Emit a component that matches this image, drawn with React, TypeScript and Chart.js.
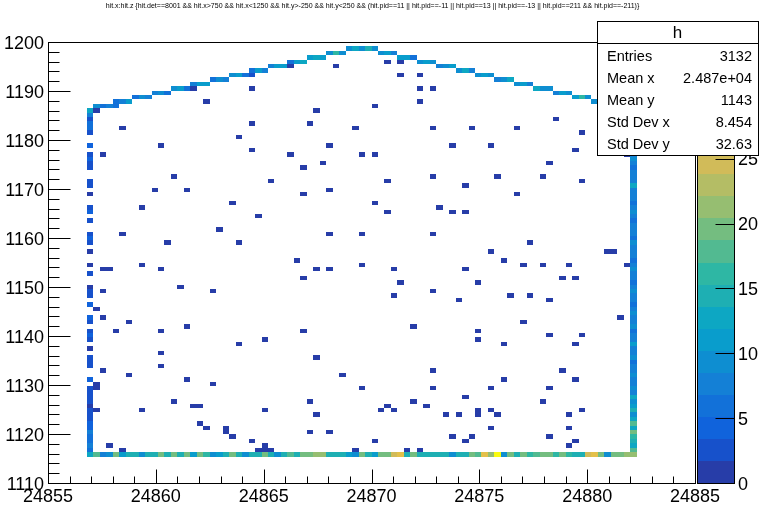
import React, { useEffect, useRef } from "react";
import { Chart, registerables } from "chart.js";
Chart.register(...registerables);

const TITLE =
  "hit.x:hit.z {hit.det==8001 && hit.x>750 && hit.x<1250 && hit.y>-250 && hit.y<250 && (hit.pid==11 || hit.pid==-11 || hit.pid==13 || hit.pid==-13 || hit.pid==211 && hit.pid==-211)}";
const HIST_NAME = "h";

// binning of the 2D histogram
const X_MIN = 24855, X_MAX = 24885, NX = 100;
const Y_MIN = 1110, Y_MAX = 1200, NY = 100;
const Z_MAX = 34;
const N_CONTOURS = 20;

const xMajorTicks = [24855, 24860, 24865, 24870, 24875, 24880, 24885];
const yMajorTicks = [1110, 1120, 1130, 1140, 1150, 1160, 1170, 1180, 1190, 1200];
const zMajorTicks = [0, 5, 10, 15, 20, 25, 30];
const X_MINOR_STEP = 1;
const Y_MINOR_STEP = 2;

const statsLabels = ["Entries", "Mean x", "Mean y", "Std Dev x", "Std Dev y"];
const statsValues = ["3132", "2.487e+04", "1143", "8.454", "32.63"];

// bottom row: y bin 6, x bins 6..90
const BOTTOM_ROW_Y_BIN = 6;
const BOTTOM_ROW_FIRST_X_BIN = 6;
const bottomRowZ = [
  12, 17, 8, 9, 20, 11, 15, 15, 9, 14,
  15, 19, 15, 19, 15, 19, 11, 19, 16, 9,
  11, 15, 19, 15, 9, 14, 15, 20, 15, 10,
  14, 17, 15, 19, 20, 22, 21, 14, 14, 15,
  11, 10, 20, 15, 11, 19, 20, 25, 26, 14,
  19, 14, 15, 14, 15, 14, 10, 14, 15, 19,
  18, 26, 21, 34, 10, 20, 15, 19, 16, 18,
  19, 20, 16, 19, 16, 15, 15, 25, 26, 20,
  10, 19, 20, 21, 21,
];

// side columns: y bins 7..84
const COLUMN_FIRST_Y_BIN = 7;
const LEFT_COLUMN_X_BIN = 6;
const leftColumnZ = [
  6, 7, 6, 6, 7, 5, 5, 2, 3,
  2, 1, 2, 3, 2, 2, 0, 5, 0, 0,
  2, 2, 2, 0, 1, 0, 2, 4, 3, 0,
  3, 4, 0, 0, 5, 0, 2, 2, 1, 0,
  0, 2, 0, 1, 0, 0, 1, 0, 2, 4,
  3, 0, 0, 2, 0, 4, 2, 0, 0, 1,
  0, 2, 2, 0, 0, 2, 3, 4, 2, 0,
  5, 0, 0, 2, 6, 6, 3, 7, 12,
];
const RIGHT_COLUMN_X_BIN = 90;
const rightColumnZ = [
  18, 12, 15, 16, 19, 13, 17, 12, 10,
  14, 11, 9, 12, 8, 9, 7, 8, 10, 7,
  8, 6, 9, 7, 8, 11, 7, 8, 6, 9,
  7, 8, 10, 7, 6, 8, 7, 9, 7, 6,
  8, 7, 9, 8, 6, 7, 8, 7, 9, 6,
  7, 8, 7, 6, 8, 9, 7, 6, 8, 7,
  8, 12, 7, 8, 7, 6, 8, 9, 7, 8,
  6, 7, 8, 9, 7, 8, 10, 8, 9,
];

// roof staircase: [x bin, y bin, content]
const stairCells: number[][] = [
  [7, 85, 10], [8, 85, 6], [9, 85, 8], [10, 85, 6],
  [10, 86, 6], [11, 86, 8], [12, 86, 11],
  [13, 87, 6], [14, 87, 10], [15, 87, 8],
  [16, 88, 8], [17, 88, 9], [18, 88, 6],
  [19, 89, 9], [20, 89, 11], [21, 89, 6],
  [22, 90, 8], [23, 90, 11], [24, 90, 11],
  [25, 91, 6], [26, 91, 9], [27, 91, 7],
  [28, 92, 10], [29, 92, 11], [30, 92, 6], [31, 92, 2],
  [31, 93, 6], [32, 93, 11], [33, 93, 8],
  [34, 94, 8], [35, 94, 11], [36, 94, 11],
  [37, 95, 6], [38, 95, 11], [39, 95, 12],
  [40, 96, 11], [41, 96, 12], [42, 96, 11],
  [43, 97, 9], [44, 97, 16], [45, 97, 10],
  [46, 98, 10], [47, 98, 13], [48, 98, 10], [49, 98, 14], [50, 98, 10],
  [51, 97, 10], [52, 97, 11], [53, 97, 8],
  [54, 96, 11], [55, 96, 11], [56, 96, 6],
  [57, 95, 10], [58, 95, 11], [59, 95, 9],
  [60, 94, 8], [61, 94, 10], [62, 94, 11],
  [63, 93, 9], [64, 93, 12], [65, 93, 8],
  [66, 92, 10], [67, 92, 11], [68, 92, 9],
  [69, 91, 8], [70, 91, 10], [71, 91, 12],
  [72, 90, 9], [73, 90, 11], [74, 90, 8],
  [75, 89, 12], [76, 89, 10], [77, 89, 9],
  [78, 88, 8], [79, 88, 11], [80, 88, 10],
  [81, 87, 11], [82, 87, 16], [83, 87, 9],
  [84, 86, 10], [85, 86, 12], [86, 86, 9],
  [87, 85, 11], [88, 85, 10], [89, 85, 9],
];

// isolated single hits inside the outline: [x bin, y bin]
const scatterCells: number[][] = [
  [44, 94], [52, 95], [54, 95], [54, 92], [57, 92], [31, 89], [22, 89], [24, 86], [37, 94],
  [7, 84], [41, 84], [50, 85], [11, 80], [31, 81], [40, 81], [47, 80], [29, 78], [17, 76],
  [43, 76], [31, 75], [8, 74], [37, 74], [48, 74], [50, 74], [42, 72], [39, 71], [89, 74],
  [57, 89], [59, 89], [57, 86], [59, 80], [65, 80], [72, 80], [78, 82], [82, 79], [62, 76],
  [68, 76], [81, 75], [77, 72],
  [16, 66], [19, 69], [21, 66], [34, 68], [43, 66], [52, 68], [59, 69], [64, 67], [69, 69],
  [76, 69], [82, 68], [14, 62], [28, 63], [39, 65], [50, 63], [52, 61], [60, 62], [62, 61],
  [64, 61], [32, 60], [72, 65], [11, 56], [26, 57], [29, 54], [43, 56], [48, 56], [59, 56],
  [68, 52], [70, 50], [74, 54], [80, 49], [86, 52], [87, 52], [18, 54], [14, 49], [8, 48],
  [9, 48], [17, 48], [38, 50], [41, 48], [43, 48], [48, 49], [53, 48], [64, 48], [73, 49],
  [76, 49], [81, 46], [89, 49], [20, 44], [25, 43], [8, 43], [39, 46], [53, 42], [54, 45],
  [59, 43], [63, 41], [66, 45], [71, 42], [74, 42], [77, 41], [79, 46], [7, 39], [8, 37],
  [12, 36], [10, 34], [17, 34], [17, 29], [21, 35], [29, 31], [33, 32], [39, 34], [56, 35],
  [66, 34], [66, 32], [70, 31], [73, 36], [77, 33], [81, 31], [82, 33], [88, 37], [8, 25],
  [12, 24], [17, 26], [21, 23], [25, 22], [41, 28], [45, 24], [48, 21], [59, 25], [59, 21],
  [64, 19], [68, 21], [70, 23], [77, 21], [79, 25], [81, 23], [7, 21], [7, 22],
  [19, 18], [22, 17], [23, 17], [7, 16], [14, 16], [33, 16], [40, 18], [52, 17], [51, 16],
  [53, 16], [56, 18], [58, 17], [41, 15], [61, 15], [63, 15], [66, 15], [66, 16], [68, 16],
  [69, 15], [76, 18], [82, 16], [80, 15], [23, 13], [24, 12], [27, 11], [27, 12], [28, 10],
  [40, 11], [43, 11], [68, 12], [80, 12], [62, 10], [65, 10], [64, 9], [77, 10], [80, 8],
  [81, 9], [31, 9], [50, 9], [9, 8], [11, 7], [32, 7], [33, 8], [33, 7], [34, 7], [47, 7],
  [55, 7], [57, 7],
];

// ROOT kBird palette
const BIRD_STOPS = [0, 0.125, 0.25, 0.375, 0.5, 0.625, 0.75, 0.875, 1];
const BIRD_R = [0.2082, 0.0592, 0.078, 0.0232, 0.1802, 0.5301, 0.8186, 0.9956, 0.9764];
const BIRD_G = [0.1664, 0.3599, 0.5041, 0.6419, 0.7178, 0.7492, 0.7328, 0.7862, 0.9832];
const BIRD_B = [0.5293, 0.8684, 0.8385, 0.7914, 0.6425, 0.4662, 0.3499, 0.1968, 0.0539];

function bird(f: number): string {
  f = Math.max(0, Math.min(1, f));
  let i = 0;
  while (i < BIRD_STOPS.length - 2 && f > BIRD_STOPS[i + 1]) i++;
  const t = (f - BIRD_STOPS[i]) / (BIRD_STOPS[i + 1] - BIRD_STOPS[i]);
  const c = (a: number[]) => Math.round(255 * (a[i] + t * (a[i + 1] - a[i])));
  return `rgb(${c(BIRD_R)},${c(BIRD_G)},${c(BIRD_B)})`;
}
function bandColor(band: number): string {
  const ci = Math.floor((band + 0.99) * 255 / N_CONTOURS);
  return bird(Math.min(254, ci) / 254);
}
function zColor(z: number): string {
  const band = Math.max(0, Math.min(N_CONTOURS - 1, Math.floor(z / (Z_MAX / N_CONTOURS))));
  return bandColor(band);
}

type Cell = { x: number; y: number; x0: number; x1: number; y0: number; y1: number; z: number };
function buildCells(): Cell[] {
  const dx = (X_MAX - X_MIN) / NX, dy = (Y_MAX - Y_MIN) / NY;
  const out: Cell[] = [];
  const add = (k: number, j: number, z: number) => {
    if (!(z > 0)) return;
    const x0 = X_MIN + k * dx, y0 = Y_MIN + j * dy;
    out.push({ x: x0 + dx / 2, y: y0 + dy / 2, x0, x1: x0 + dx, y0, y1: y0 + dy, z });
  };
  bottomRowZ.forEach((z, i) => add(BOTTOM_ROW_FIRST_X_BIN + i, BOTTOM_ROW_Y_BIN, z));
  leftColumnZ.forEach((z, i) => add(LEFT_COLUMN_X_BIN, COLUMN_FIRST_Y_BIN + i, z));
  rightColumnZ.forEach((z, i) => add(RIGHT_COLUMN_X_BIN, COLUMN_FIRST_Y_BIN + i, z));
  stairCells.forEach(([k, j, z]) => add(k, j, z));
  scatterCells.forEach(([k, j]) => add(k, j, 1));
  return out;
}

const FONT = '"Liberation Sans", Arial, Helvetica, sans-serif';

const rootPlugin = {
  id: "rootTH2",
  beforeDatasetsDraw(chart: any) {
    const ctx: CanvasRenderingContext2D = chart.ctx;
    const xs = chart.scales.x, ys = chart.scales.y;
    const data = chart.data.datasets[0].data as Cell[];
    ctx.save();
    for (const c of data) {
      const px0 = Math.round(xs.getPixelForValue(c.x0));
      const px1 = Math.round(xs.getPixelForValue(c.x1));
      const py0 = Math.round(ys.getPixelForValue(c.y0));
      const py1 = Math.round(ys.getPixelForValue(c.y1));
      ctx.fillStyle = zColor(c.z);
      ctx.fillRect(px0, py1, px1 - px0, py0 - py1);
    }
    ctx.restore();
  },
  afterDraw(chart: any) {
    const ctx: CanvasRenderingContext2D = chart.ctx;
    const xs = chart.scales.x, ys = chart.scales.y;
    const a = chart.chartArea;
    const L = Math.round(a.left), R = Math.round(a.right), T = Math.round(a.top), B = Math.round(a.bottom);
    ctx.save();
    ctx.strokeStyle = "#000";
    ctx.fillStyle = "#000";
    ctx.lineWidth = 1;

    // frame
    ctx.strokeRect(L + 0.5, T + 0.5, R - L, B - T);

    // x ticks (inward)
    ctx.beginPath();
    for (let v = X_MIN; v <= X_MAX + 1e-9; v += X_MINOR_STEP) {
      const px = Math.round(xs.getPixelForValue(v)) + 0.5;
      const major = xMajorTicks.includes(v);
      ctx.moveTo(px, B + 0.5);
      ctx.lineTo(px, B + 0.5 - (major ? 14 : 7));
    }
    // y ticks
    for (let v = Y_MIN; v <= Y_MAX + 1e-9; v += Y_MINOR_STEP) {
      const py = Math.round(ys.getPixelForValue(v)) + 0.5;
      const major = yMajorTicks.includes(v);
      ctx.moveTo(L + 0.5, py);
      ctx.lineTo(L + 0.5 + (major ? 22 : 11), py);
    }
    ctx.stroke();

    // axis labels
    ctx.font = `18px ${FONT}`;
    ctx.textBaseline = "alphabetic";
    ctx.textAlign = "center";
    for (const v of xMajorTicks) ctx.fillText(String(v), xs.getPixelForValue(v), B + 19);
    ctx.textAlign = "right";
    for (const v of yMajorTicks) ctx.fillText(String(v), L - 4, ys.getPixelForValue(v) + 6.5);

    // palette
    const zs = chart.scales.z;
    const zPix = (v: number) => {
      const p = zs ? zs.getPixelForValue(v) : NaN;
      return isFinite(p) ? p : B - (v / Z_MAX) * (B - T);
    };
    const pL = R + 2, pR = R + 39;
    for (let i = 0; i < N_CONTOURS; i++) {
      const zlo = (i * Z_MAX) / N_CONTOURS, zhi = ((i + 1) * Z_MAX) / N_CONTOURS;
      const y0 = Math.round(zPix(zlo)), y1 = Math.round(zPix(zhi));
      ctx.fillStyle = bandColor(i);
      ctx.fillRect(pL, y1, pR - pL, y0 - y1);
    }
    ctx.strokeStyle = "#000";
    ctx.strokeRect(pL + 0.5, T + 0.5, pR - pL, B - T);
    ctx.beginPath();
    for (const v of zMajorTicks) {
      const py = Math.round(zPix(v)) + 0.5;
      ctx.moveTo(pR + 0.5, py);
      ctx.lineTo(pR + 0.5 - 19, py);
    }
    ctx.stroke();
    ctx.fillStyle = "#000";
    ctx.textAlign = "left";
    ctx.font = `18px ${FONT}`;
    for (const v of zMajorTicks) ctx.fillText(String(v), pR + 4, zPix(v) + 6.5);

    // title (fit to width)
    ctx.font = `10px ${FONT}`;
    const w10 = ctx.measureText(TITLE).width;
    const size = (10 * 534) / w10;
    ctx.font = `${size.toFixed(2)}px ${FONT}`;
    ctx.textAlign = "center";
    ctx.textBaseline = "middle";
    ctx.fillText(TITLE, 372.5, 6.5);

    // stats box
    const bx = 597, by = 21, bw = 161, bh = 134;
    ctx.fillStyle = "#fff";
    ctx.fillRect(bx, by, bw, bh);
    ctx.strokeStyle = "#000";
    ctx.strokeRect(bx + 0.5, by + 0.5, bw, bh);
    ctx.beginPath();
    ctx.moveTo(bx, by + 22.5);
    ctx.lineTo(bx + bw, by + 22.5);
    ctx.stroke();
    ctx.fillStyle = "#000";
    ctx.textBaseline = "alphabetic";
    ctx.textAlign = "center";
    ctx.font = `17px ${FONT}`;
    ctx.fillText(HIST_NAME, bx + bw / 2, by + 17);
    ctx.font = `14.5px ${FONT}`;
    statsLabels.forEach((lab, i) => {
      const yb = by + 40 + i * 22;
      ctx.textAlign = "left";
      ctx.fillText(lab, bx + 10, yb);
      ctx.textAlign = "right";
      ctx.fillText(statsValues[i], bx + bw - 6, yb);
    });
    ctx.restore();
  },
};

export default function App() {
  const ref = useRef<HTMLCanvasElement | null>(null);
  useEffect(() => {
    document.body.style.margin = "0";
    const cells = buildCells();
    const chart = new Chart(ref.current as HTMLCanvasElement, {
      type: "scatter",
      data: {
        datasets: [
          {
            label: HIST_NAME,
            data: cells as any,
            pointRadius: 0,
            pointHoverRadius: 0,
          },
        ],
      },
      options: {
        animation: false,
        responsive: false,
        devicePixelRatio: 1,
        events: [],
        layout: { padding: { left: 48, top: 42, right: 66, bottom: 38 } },
        plugins: { legend: { display: false }, tooltip: { enabled: false }, title: { display: false } },
        scales: {
          x: { type: "linear", min: X_MIN, max: X_MAX, display: false },
          y: { type: "linear", min: Y_MIN, max: Y_MAX, display: false },
          z: { type: "linear", axis: "y", min: 0, max: Z_MAX, display: false },
        } as any,
      },
      plugins: [rootPlugin as any],
    });
    return () => chart.destroy();
  }, []);
  return (
    <div style={{ position: "fixed", left: 0, top: 0, width: 761, height: 521, background: "#fff" }}>
      <canvas ref={ref} width={761} height={521} style={{ display: "block" }} />
    </div>
  );
}
